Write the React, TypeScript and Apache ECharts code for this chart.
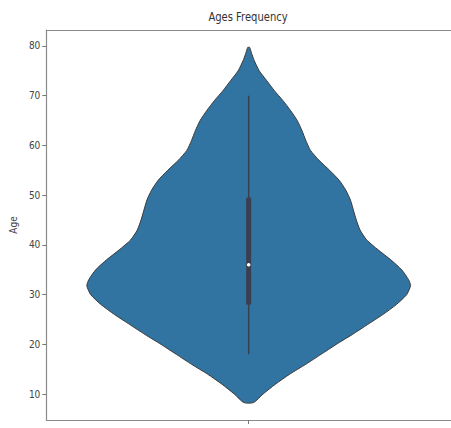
import React, { useEffect, useRef } from "react";
import * as echarts from "echarts";

const chartTitle = "Ages Frequency";
const yAxisName = "Age";
const yTicks = [10, 20, 30, 40, 50, 60, 70, 80];
const xTicks = [0];

// Violin outline (kernel density, relative to its peak), top to bottom
const profileAges = [
  79.7, 78.5, 77, 75, 73, 71, 69, 67, 65, 63, 61, 59, 57, 55, 53, 51, 49, 47, 45,
  43, 41, 39, 37, 35, 33, 31.8, 30, 28, 26, 24, 22, 20, 18, 16, 14, 12, 10, 8.3,
];
const profileDensity = [
  0.006, 0.018, 0.035, 0.065, 0.112, 0.159, 0.212, 0.259, 0.3, 0.329, 0.353, 0.382,
  0.435, 0.5, 0.559, 0.6, 0.629, 0.647, 0.665, 0.688, 0.729, 0.8, 0.878, 0.945, 0.988,
  1.0, 0.976, 0.912, 0.829, 0.735, 0.641, 0.541, 0.447, 0.353, 0.253, 0.165, 0.088, 0.03,
];

// Inner box statistics: x, whiskerLow, q1, median, q3, whiskerHigh
const boxStats = [[0, 18, 28, 36, 49.5, 70]];

const VIOLIN_HALF = 0.4;

export default function App() {
  const ref = useRef<HTMLDivElement>(null);
  useEffect(() => {
    document.body.style.margin = "0";
    const chart = echarts.init(ref.current!, null, { renderer: "svg" });
    const tickFont = "'Liberation Sans Narrow', 'DejaVu Sans Condensed', 'Liberation Sans', sans-serif";
    const frame = { show: true, onZero: false, lineStyle: { color: "#8a8a8a", width: 1.2 } };
    chart.setOption({
      animation: false,
      backgroundColor: "#ffffff",
      grid: { left: 36, right: -9, top: 30, bottom: 4 },
      graphic: [
        {
          type: "group",
          x: 248,
          y: 17,
          scaleX: 0.8,
          children: [
            {
              type: "text",
              x: 0,
              y: 0,
              style: {
                text: chartTitle,
                fontSize: 12.5,
                fontFamily: "'DejaVu Sans', sans-serif",
                fill: "#333333",
                textAlign: "center",
                textVerticalAlign: "middle",
              },
            },
          ],
        },
      ],
      xAxis: [
        {
          type: "value",
          position: "bottom",
          min: -0.5,
          max: 0.5,
          axisLine: frame,
          splitLine: { show: false },
          axisTick: { show: true, length: 4, customValues: xTicks, lineStyle: { color: "#777777" } },
          axisLabel: { show: true, customValues: xTicks, formatter: () => "" },
        },
        {
          type: "value",
          position: "top",
          min: -0.5,
          max: 0.5,
          axisLine: frame,
          splitLine: { show: false },
          axisTick: { show: false },
          axisLabel: { show: false },
        },
      ],
      yAxis: {
        type: "value",
        position: "left",
        min: 4.8,
        max: 83.2,
        name: yAxisName,
        nameLocation: "middle",
        nameGap: 25,
        nameRotate: 90,
        nameTextStyle: { fontSize: 10, color: "#444444", fontFamily: tickFont },
        axisLine: frame,
        splitLine: { show: false },
        axisTick: { show: true, length: 4, customValues: yTicks, lineStyle: { color: "#777777" } },
        axisLabel: {
          customValues: yTicks,
          fontSize: 10,
          color: "#444444",
          margin: 6,
          fontFamily: tickFont,
        },
      },
      series: [
        {
          type: "custom",
          data: [[0, 36]],
          silent: true,
          renderItem: (_params: any, api: any) => {
            const left = profileAges.map((a, i) => api.coord([-VIOLIN_HALF * profileDensity[i], a]));
            const right = profileAges
              .map((a, i) => api.coord([VIOLIN_HALF * profileDensity[i], a]))
              .reverse();
            return {
              type: "polygon",
              shape: { points: [...left, ...right], smooth: 0.2 },
              style: { fill: "#3274a1", stroke: "#3a3a3a", lineWidth: 1 },
            };
          },
        },
        {
          type: "custom",
          data: boxStats,
          silent: true,
          encode: { x: 0, y: [1, 2, 3, 4, 5] },
          renderItem: (_params: any, api: any) => {
            const x = api.value(0);
            const lo = api.coord([x, api.value(1)]);
            const b1 = api.coord([x, api.value(2)]);
            const med = api.coord([x, api.value(3)]);
            const b3 = api.coord([x, api.value(4)]);
            const hi = api.coord([x, api.value(5)]);
            return {
              type: "group",
              children: [
                {
                  type: "line",
                  shape: { x1: lo[0], y1: lo[1], x2: hi[0], y2: hi[1] },
                  style: { stroke: "#3a3f4f", lineWidth: 1.5 },
                },
                {
                  type: "rect",
                  shape: { x: b3[0] - 2.5, y: b3[1], width: 5, height: b1[1] - b3[1] },
                  style: { fill: "#3a3f4f" },
                },
                {
                  type: "circle",
                  shape: { cx: med[0], cy: med[1], r: 1.8 },
                  style: { fill: "#ffffff" },
                },
              ],
            };
          },
        },
      ],
    });
    return () => chart.dispose();
  }, []);
  return (
    <div
      ref={ref}
      style={{ position: "absolute", left: 0, top: 0, width: 451, height: 428 }}
    />
  );
}
